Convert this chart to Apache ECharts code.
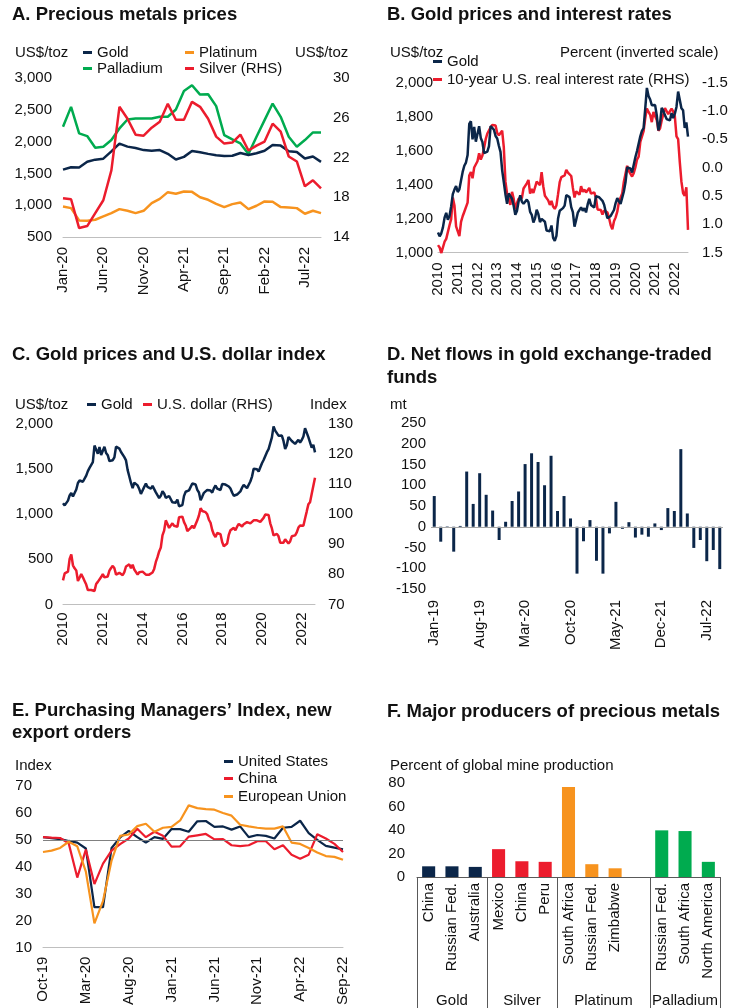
<!DOCTYPE html>
<html>
<head>
<meta charset="utf-8">
<script src="https://cdn.jsdelivr.net/npm/echarts/dist/echarts.min.js"></script>
<style>
  html, body { margin: 0; padding: 0; background: #fff; }
  #chart { width: 750px; height: 1008px; }
</style>
</head>
<body>
<div id="chart"></div>
<script>
// ---------- helpers for month category labels ----------
const MON = ['Jan','Feb','Mar','Apr','May','Jun','Jul','Aug','Sep','Oct','Nov','Dec'];
function monthLabels(year, month, count) {
  const out = [];
  for (let i = 0; i < count; i++) {
    const k = month - 1 + i;
    out.push(MON[k % 12] + '-' + String((year + Math.floor(k / 12)) % 100).padStart(2, '0'));
  }
  return out;
}

// ---------- A. Precious metals prices (monthly, Jan-20 .. Sep-22) ----------
const metalMonths = monthLabels(2020, 1, 33);
const platinumA = [980, 954, 761, 756, 771, 824, 876, 938, 912, 876, 912, 1032,
  1100, 1205, 1179, 1215, 1210, 1126, 1085, 1022, 970, 1017, 1043, 938,
  991, 1059, 1053, 970, 965, 954, 865, 912, 876];
const palladiumA = [2233, 2546, 2129, 2087, 1904, 1920, 2024, 2207, 2348, 2363, 2363, 2363,
  2390, 2390, 2504, 2797, 2886, 2739, 2745, 2557, 2103, 2035, 1972, 1805,
  2076, 2337, 2598, 2390, 2076, 1920, 2024, 2144, 2144];
const silverA = [17.9, 17.8, 14.9, 15.1, 16.4, 17.7, 20.7, 27.1, 25.9, 24.3, 24.2, 25.0,
  25.6, 27.4, 25.8, 25.8, 27.6, 27.1, 25.9, 24.1, 23.4, 23.5, 24.3, 22.7,
  23.2, 23.6, 25.4, 24.6, 22.1, 21.6, 19.1, 19.7, 18.9];

// ---------- B / C. Monthly series, Jan-2010 .. Sep-2022 ----------
const longMonths = monthLabels(2010, 1, 153);
const goldMonthly = [
  1118, 1095, 1113, 1148, 1205, 1233, 1193, 1215, 1271, 1343, 1370, 1391,
  1356, 1372, 1424, 1474, 1510, 1529, 1573, 1756, 1772, 1665, 1739, 1652,
  1656, 1743, 1674, 1650, 1585, 1596, 1594, 1626, 1744, 1747, 1722, 1685,
  1671, 1628, 1592, 1485, 1414, 1343, 1286, 1347, 1349, 1316, 1275, 1222,
  1244, 1300, 1336, 1299, 1287, 1279, 1311, 1296, 1239, 1222, 1176, 1201,
  1251, 1227, 1179, 1198, 1199, 1181, 1129, 1118, 1125, 1159, 1086, 1069,
  1098, 1200, 1246, 1243, 1261, 1276, 1337, 1341, 1326, 1267, 1238, 1152,
  1192, 1234, 1231, 1266, 1246, 1260, 1236, 1283, 1315, 1280, 1282, 1265,
  1331, 1331, 1325, 1335, 1304, 1281, 1238, 1202, 1199, 1215, 1221, 1250,
  1291, 1320, 1301, 1286, 1284, 1359, 1413, 1500, 1510, 1495, 1470, 1480,
  1560, 1597, 1592, 1683, 1716, 1732, 1846, 1968, 1921, 1900, 1866, 1858,
  1867, 1808, 1718, 1760, 1851, 1834, 1807, 1785, 1775, 1777, 1820, 1790,
  1817, 1856, 1947, 1937, 1849, 1837, 1733, 1765, 1681];
const realRate = [
  1.37, 1.41, 1.51, 1.50, 1.31, 1.26, 1.24, 1.02, 0.91, 0.53, 0.67, 1.04,
  1.06, 1.21, 0.96, 0.86, 0.78, 0.76, 0.62, 0.14, 0.08, 0.19, 0.00, -0.03,
  -0.11, -0.25, -0.14, -0.21, -0.34, -0.50, -0.60, -0.59, -0.71, -0.75, -0.78, -0.74,
  -0.61, -0.57, -0.59, -0.65, -0.36, 0.25, 0.46, 0.55, 0.66, 0.43, 0.55, 0.74,
  0.63, 0.55, 0.56, 0.54, 0.37, 0.37, 0.28, 0.22, 0.46, 0.38, 0.45, 0.48,
  0.25, 0.25, 0.31, 0.08, 0.33, 0.50, 0.50, 0.58, 0.66, 0.59, 0.69, 0.73,
  0.67, 0.47, 0.26, 0.17, 0.20, 0.14, 0.04, 0.09, 0.07, 0.15, 0.36, 0.53,
  0.42, 0.40, 0.48, 0.33, 0.43, 0.39, 0.44, 0.40, 0.36, 0.46, 0.48, 0.44,
  0.53, 0.74, 0.75, 0.75, 0.83, 0.76, 0.78, 0.79, 0.89, 1.02, 1.09, 0.95,
  0.88, 0.78, 0.61, 0.58, 0.46, 0.25, 0.26, -0.03, 0.06, 0.09, 0.16, 0.10,
  0.00, -0.14, -0.19, -0.45, -0.45, -0.64, -0.87, -1.04, -0.98, -0.93, -0.80, -0.98,
  -1.01, -0.84, -0.65, -0.69, -0.83, -0.85, -1.05, -1.07, -0.94, -0.93, -1.04, -0.99,
  -0.90, -0.55, -0.50, -0.10, 0.25, 0.45, 0.50, 0.35, 1.10];
const dollarIndex = [
  78.0, 80.3, 80.7, 80.9, 85.1, 86.6, 83.0, 82.0, 81.3, 77.8, 78.9, 80.1,
  79.0, 77.8, 76.6, 74.8, 74.9, 74.8, 74.6, 74.5, 76.8, 77.5, 77.8, 79.1,
  80.1, 79.0, 79.5, 79.3, 81.2, 82.1, 82.8, 82.0, 79.9, 79.7, 80.5, 80.1,
  79.7, 80.7, 82.6, 82.4, 83.3, 82.0, 83.2, 81.6, 81.2, 79.9, 80.7, 80.5,
  80.9, 80.5, 79.9, 79.9, 79.9, 80.5, 80.6, 81.8, 84.1, 85.7, 87.6, 88.9,
  92.9, 94.5, 97.9, 97.7, 95.4, 95.7, 96.9, 96.1, 95.6, 95.8, 98.9, 98.7,
  99.1, 97.3, 96.2, 94.3, 94.8, 95.4, 96.1, 95.3, 95.4, 97.9, 99.5, 101.9,
  101.0, 100.6, 100.6, 99.9, 98.1, 97.1, 94.7, 93.2, 92.4, 93.7, 93.7, 93.3,
  90.7, 89.3, 89.8, 90.2, 93.1, 94.6, 94.6, 95.4, 94.6, 95.8, 96.7, 96.8,
  95.9, 96.6, 96.8, 97.3, 97.7, 96.9, 97.0, 97.9, 98.5, 97.9, 97.9, 97.4,
  97.5, 98.7, 99.8, 100.0, 99.7, 96.9, 95.2, 92.9, 93.1, 93.4, 92.6, 90.5,
  90.3, 90.5, 91.6, 91.5, 90.2, 90.9, 92.6, 92.8, 92.9, 93.9, 95.5, 96.2,
  95.8, 96.1, 98.5, 100.8, 103.2, 103.9, 106.6, 106.6, 112.0];
const goldA = goldMonthly.slice(-33);

// ---------- D. Net flows in gold ETFs (mt, Jan-19 .. Sep-22) ----------
const flowMonths = monthLabels(2019, 1, 45);
const etfFlows = [74, -36, 1, -60, 2, 133, 55, 129, 77, 39, -32, 12,
  62, 85, 151, 177, 156, 100, 171, 38, 74, 20, -113, -35,
  16, -82, -113, -16, 60, -5, 11, -26, -19, -24, 8, -8,
  45, 38, 187, 32, -51, -32, -83, -56, -102];

// ---------- E. PMI new export orders (Oct-19 .. Sep-22) ----------
const pmiMonths = monthLabels(2019, 10, 36);
const pmiUS = [51, 50.6, 50.3, 49.6, 49, 46.8, 25, 25, 47, 50.9, 53.3, 51,
  49, 51, 50.4, 54, 54, 53, 56.9, 57, 54.8, 55, 53.8, 55,
  51, 51.8, 51.5, 50.5, 54.5, 54.8, 57.1, 52.5, 50, 47.8, 47.1, 46.5];
const pmiChina = [51, 50.8, 50.7, 48.7, 36, 46.4, 33.6, 41.2, 46, 48.4, 50.5, 54.1,
  51, 53, 51.5, 47.5, 47.6, 51.2, 51.7, 52.2, 50.2, 50.3, 48, 47.7,
  48, 49.5, 49.5, 46.5, 48, 44.5, 43, 44.5, 52.1, 50.5, 48.5, 45.5];
const pmiEU = [45.5, 46, 47, 49.3, 47.6, 38.2, 19, 27.3, 42.3, 51.5, 52, 55.1,
  56, 53, 54.5, 54.8, 57.2, 62.8, 61.8, 61.4, 61.2, 60, 59, 55.6,
  55, 54.5, 54.2, 54.2, 55, 49, 48.5, 47, 45.3, 44, 43.7, 42.6];

// ---------- F. Major producers of precious metals ----------
const producerNames = ['China', 'Russian Fed.', 'Australia', 'Mexico', 'China', 'Peru',
  'South Africa', 'Russian Fed.', 'Zimbabwe', '', 'Russian Fed.', 'South Africa', 'North America'];
const producerShare = [9.1, 9.1, 8.6, 23.7, 13.4, 12.9, 76.6, 10.9, 7.4, null, 39.7, 39.1, 12.9];
const producerMetal = [0, 0, 0, 1, 1, 1, 2, 2, 2, 2, 3, 3, 3];
const metalGroups = ['Gold', 'Silver', 'Platinum', 'Palladium'];

// ---------- styling ----------
const FONT = '"Liberation Sans", Arial, Helvetica, sans-serif';
const NAVY = '#0b2649', RED = '#ec1c2d', ORANGE = '#f7931e', GREEN = '#00ab4f';
const metalColors = [NAVY, RED, ORANGE, GREEN];
const TXT = '#111';
const FS = 15;

const thousands = v => Number(v).toLocaleString('en-US');

function xCat(gridIndex, data, extra) {
  return Object.assign({
    type: 'category', gridIndex, data, boundaryGap: false,
    axisLine: { show: true, onZero: false, lineStyle: { color: '#bfbfbf', width: 1 } },
    axisTick: { show: false }, splitLine: { show: false },
    axisLabel: { rotate: 90, fontSize: FS, fontFamily: FONT, color: TXT, margin: 10 }
  }, extra);
}
function yVal(gridIndex, min, max, interval, extra) {
  return Object.assign({
    type: 'value', gridIndex, min, max, interval,
    axisLine: { show: false }, axisTick: { show: false }, splitLine: { show: false },
    axisLabel: { fontSize: FS, fontFamily: FONT, color: TXT, margin: 10 }
  }, extra);
}
function line(name, data, color, xi, yi, width) {
  return { type: 'line', name, data, xAxisIndex: xi, yAxisIndex: yi, showSymbol: false, symbol: 'none',
    lineStyle: { color, width: width || 2.5 }, itemStyle: { color }, animation: false, silent: true };
}
function legendItem(name, left, cy) {
  return { data: [name], left, top: cy - 8, padding: 0, icon: 'rect', itemWidth: 9, itemHeight: 3,
    selectedMode: false, textStyle: { fontSize: FS, fontFamily: FONT, color: TXT } };
}

const option = {
  animation: false,
  backgroundColor: '#fff',
  grid: [
    { left: 63, top: 78, width: 258, height: 159 },       // A
    { left: 438, top: 82.5, width: 250, height: 170 },    // B
    { left: 63, top: 423.5, width: 252, height: 181 },    // C
    { left: 431, top: 423, width: 292, height: 166 },     // D
    { left: 43, top: 786, width: 300, height: 165 },      // E
    { left: 417, top: 783, width: 303, height: 94 }       // F
  ],
  xAxis: [
    xCat(0, metalMonths, { axisLabel: { rotate: 90, interval: 4, fontSize: FS, fontFamily: FONT, color: TXT, margin: 10 } }),
    xCat(1, longMonths, { axisLabel: { rotate: 90, interval: 11, fontSize: FS, fontFamily: FONT, color: TXT, margin: 10,
      formatter: v => '20' + v.slice(4) } }),
    xCat(2, longMonths, { axisLabel: { rotate: 90, interval: 23, fontSize: FS, fontFamily: FONT, color: TXT, margin: 8,
      formatter: v => '20' + v.slice(4) } }),
    xCat(3, flowMonths, { boundaryGap: true, axisLine: { show: false, onZero: false },
      axisLabel: { rotate: 90, interval: 6, fontSize: FS, fontFamily: FONT, color: TXT, margin: 11 } }),
    xCat(4, pmiMonths, { axisLabel: { rotate: 90, interval: 4, fontSize: FS, fontFamily: FONT, color: TXT, margin: 9 } }),
    xCat(5, producerNames.map((_, i) => 'p' + i), { boundaryGap: true,
      axisLine: { show: true, onZero: false, lineStyle: { color: '#595959', width: 1 } },
      axisLabel: { rotate: 90, interval: 0, fontSize: FS, fontFamily: FONT, color: TXT, margin: 6,
        formatter: (v, i) => producerNames[i] } })
  ],
  yAxis: [
    yVal(0, 500, 3000, 500, { axisLabel: { fontSize: FS, fontFamily: FONT, color: TXT, margin: 11, formatter: thousands } }),
    yVal(0, 14, 30, 4, { position: 'right', axisLabel: { fontSize: FS, fontFamily: FONT, color: TXT, margin: 12 } }),
    yVal(1, 1000, 2000, 200, { axisLabel: { fontSize: FS, fontFamily: FONT, color: TXT, margin: 5, formatter: thousands } }),
    yVal(1, -1.5, 1.5, 0.5, { position: 'right', inverse: true,
      axisLabel: { fontSize: FS, fontFamily: FONT, color: TXT, margin: 14, formatter: v => v.toFixed(1) } }),
    yVal(2, 0, 2000, 500, { axisLabel: { fontSize: FS, fontFamily: FONT, color: TXT, margin: 10, formatter: thousands } }),
    yVal(2, 70, 130, 10, { position: 'right', axisLabel: { fontSize: FS, fontFamily: FONT, color: TXT, margin: 13 } }),
    yVal(3, -150, 250, 50, { axisLabel: { fontSize: FS, fontFamily: FONT, color: TXT, margin: 5 } }),
    yVal(4, 10, 70, 10, { axisLabel: { fontSize: FS, fontFamily: FONT, color: TXT, margin: 11 } }),
    yVal(5, 0, 80, 20, { axisLabel: { fontSize: FS, fontFamily: FONT, color: TXT, margin: 12 } })
  ],
  legend: [
    legendItem('Gold', 83, 53), legendItem('Platinum', 185, 53),
    legendItem('Palladium', 83, 69), legendItem('Silver (RHS)', 185, 69),
    legendItem('Gold', 433, 62), legendItem('10-year U.S. real interest rate (RHS)', 433, 80),
    legendItem('Gold', 87, 405), legendItem('U.S. dollar (RHS)', 143, 405),
    legendItem('United States', 224, 762), legendItem('China', 224, 779), legendItem('European Union', 224, 797)
  ],
  series: [
    // A
    line('Platinum', platinumA, ORANGE, 0, 0),
    line('Palladium', palladiumA, GREEN, 0, 0),
    line('Gold', goldA, NAVY, 0, 0),
    line('Silver (RHS)', silverA, RED, 0, 1),
    // B
    line('10-year U.S. real interest rate (RHS)', realRate, RED, 1, 3),
    line('Gold', goldMonthly, NAVY, 1, 2),
    // C
    line('Gold', goldMonthly, NAVY, 2, 4),
    line('U.S. dollar (RHS)', dollarIndex, RED, 2, 5),
    // D
    { type: 'bar', name: 'ETF flows', data: etfFlows, xAxisIndex: 3, yAxisIndex: 6, barWidth: '46%',
      itemStyle: { color: NAVY }, silent: true,
      markLine: { silent: true, symbol: 'none', label: { show: false },
        lineStyle: { color: '#a6a6a6', width: 1, type: 'solid' }, data: [{ yAxis: 0 }] } },
    // E
    line('United States', pmiUS, NAVY, 4, 7, 2.2),
    line('China', pmiChina, RED, 4, 7, 2.2),
    Object.assign(line('European Union', pmiEU, ORANGE, 4, 7, 2.2), {
      markLine: { silent: true, symbol: 'none', label: { show: false },
        lineStyle: { color: '#808080', width: 1, type: 'solid' }, data: [{ yAxis: 50 }] } }),
    // F
    { type: 'bar', name: 'Share of mine production', xAxisIndex: 5, yAxisIndex: 8, barWidth: '56%', silent: true,
      data: producerShare.map((v, i) => ({ value: v == null ? '-' : v, itemStyle: { color: metalColors[producerMetal[i]] } })) }
  ]
};

const chart = echarts.init(document.getElementById('chart'), null, { renderer: 'canvas' });
chart.setOption(option);

// ---------- titles, unit labels and the grouped axis of panel F ----------
function txt(text, x, y, opts) {
  return { type: 'text', silent: true, style: Object.assign({
    text, x, y, fill: TXT, font: FS + 'px ' + FONT, verticalAlign: 'middle', align: 'left' }, opts || {}) };
}
const boldFont = 'bold 18.5px ' + FONT;
const graphics = [
  txt('A. Precious metals prices', 12, 15, { font: boldFont }),
  txt('B. Gold prices and interest rates', 387, 15, { font: boldFont }),
  txt('C. Gold prices and U.S. dollar index', 12, 355, { font: boldFont }),
  txt('D. Net flows in gold exchange-traded', 387, 355, { font: boldFont }),
  txt('funds', 387, 378, { font: boldFont }),
  txt('E. Purchasing Managers\u2019 Index, new', 12, 711, { font: boldFont }),
  txt('export orders', 12, 733, { font: boldFont }),
  txt('F. Major producers of precious metals', 387, 712, { font: boldFont }),
  txt('US$/toz', 15, 53), txt('US$/toz', 295, 53),
  txt('US$/toz', 390, 53), txt('Percent (inverted scale)', 560, 53),
  txt('US$/toz', 15, 405), txt('Index', 310, 405),
  txt('mt', 390, 405),
  txt('Index', 15, 766),
  txt('Percent of global mine production', 390, 766)
];

// group separators and labels beneath the producer categories
const band = chart.convertToPixel({ xAxisIndex: 5 }, 'p1') - chart.convertToPixel({ xAxisIndex: 5 }, 'p0');
const axisY = chart.convertToPixel({ yAxisIndex: 8 }, 0);
const bottom = chart.getHeight();
const bounds = [];
metalGroups.forEach((g, gi) => {
  const idx = producerMetal.map((m, i) => m === gi ? i : -1).filter(i => i >= 0);
  const x0 = chart.convertToPixel({ xAxisIndex: 5 }, 'p' + idx[0]) - band / 2;
  const x1 = chart.convertToPixel({ xAxisIndex: 5 }, 'p' + idx[idx.length - 1]) + band / 2;
  bounds.push(x0, x1);
  graphics.push(txt(g, (x0 + x1) / 2, 1001, { align: 'center' }));
});
[...new Set(bounds.map(b => Math.round(b * 10) / 10))].forEach(x => {
  graphics.push({ type: 'line', silent: true,
    shape: { x1: Math.round(x) + 0.5, y1: axisY, x2: Math.round(x) + 0.5, y2: bottom },
    style: { stroke: '#595959', lineWidth: 1 } });
});

chart.setOption({ graphic: graphics });
</script>
</body>
</html>
